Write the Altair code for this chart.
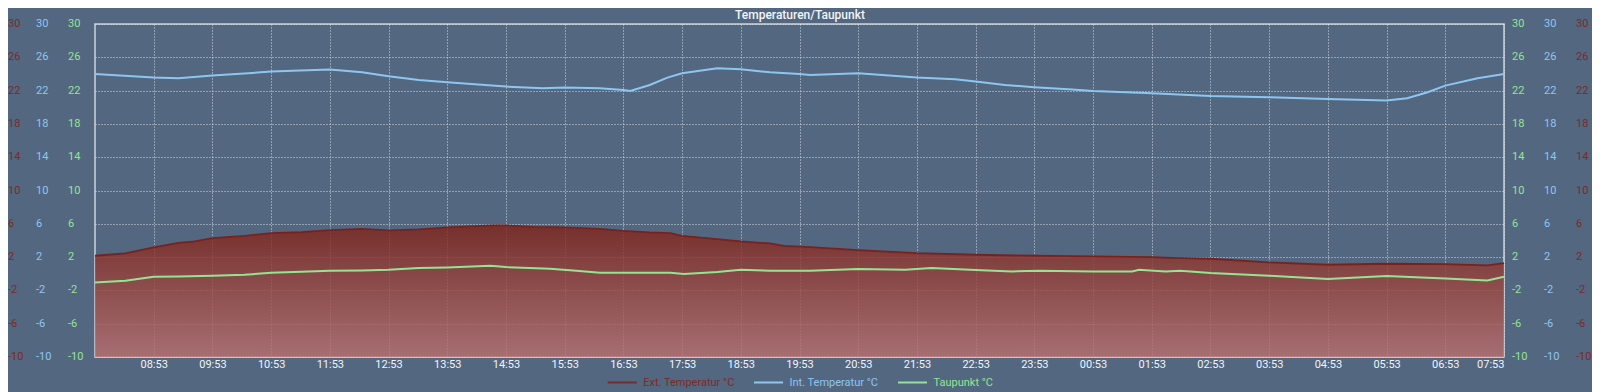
import altair as alt
import pandas as pd

# ---------------- data ----------------
title_text = "Temperaturen/Taupunkt"
series_names = ["Ext. Temperatur °C", "Int. Temperatur °C", "Taupunkt °C"]

# minutes after 07:53 (start of the 24 h window)
ext_min = [0, 31, 60, 85, 102, 120, 153, 180, 211, 240, 273, 300, 331, 360, 407, 420, 448, 480,
           516, 540, 567, 588, 600, 625, 660, 690, 704, 731, 780, 840, 900, 960, 1020, 1080, 1100,
           1140, 1200, 1260, 1320, 1380, 1423, 1440]
ext_val = [2.16, 2.44, 3.16, 3.72, 3.88, 4.28, 4.56, 4.88, 5.0, 5.24, 5.4, 5.2, 5.32, 5.56, 5.8, 5.8,
           5.64, 5.56, 5.4, 5.16, 4.96, 4.88, 4.56, 4.28, 3.88, 3.64, 3.36, 3.2, 2.84, 2.48, 2.28,
           2.16, 2.08, 2.0, 1.9, 1.8, 1.36, 1.08, 1.2, 1.16, 1.0, 1.28]

int_min = [0, 60, 85, 120, 180, 240, 273, 300, 331, 360, 420, 458, 480, 516, 540, 547, 567, 585,
           600, 636, 660, 690, 720, 731, 780, 840, 879, 900, 930, 960, 999, 1020, 1080, 1140, 1200,
           1260, 1320, 1341, 1362, 1380, 1413, 1440]
int_val = [24.0, 23.56, 23.48, 23.8, 24.28, 24.52, 24.2, 23.72, 23.28, 23.0, 22.48, 22.28, 22.36,
           22.28, 22.08, 21.96, 22.68, 23.56, 24.08, 24.68, 24.56, 24.2, 24.0, 23.88, 24.08, 23.56,
           23.36, 23.08, 22.68, 22.4, 22.12, 21.96, 21.68, 21.36, 21.2, 21.0, 20.8, 21.08, 21.8,
           22.6, 23.48, 24.0]

dew_min = [0, 31, 60, 85, 120, 153, 180, 211, 240, 273, 300, 331, 360, 404, 420, 465, 492, 516,
           554, 588, 602, 636, 660, 690, 731, 780, 828, 855, 900, 937, 965, 1020, 1060, 1067, 1094,
           1109, 1140, 1200, 1260, 1320, 1380, 1423, 1440]
dew_val = [-1.04, -0.84, -0.36, -0.32, -0.24, -0.12, 0.12, 0.24, 0.36, 0.4, 0.48, 0.68, 0.76, 0.96,
           0.8, 0.6, 0.36, 0.12, 0.12, 0.12, -0.04, 0.2, 0.48, 0.36, 0.36, 0.56, 0.48, 0.68, 0.44,
           0.28, 0.36, 0.28, 0.28, 0.48, 0.28, 0.36, 0.08, -0.24, -0.64, -0.28, -0.56, -0.8, -0.36]

x_tick_minutes = [60, 120, 180, 240, 300, 360, 420, 480, 540, 600, 660, 720, 780, 840, 900, 960,
                  1020, 1080, 1140, 1200, 1260, 1320, 1380, 1440]
x_tick_labels = ["08:53", "09:53", "10:53", "11:53", "12:53", "13:53", "14:53", "15:53", "16:53",
                 "17:53", "18:53", "19:53", "20:53", "21:53", "22:53", "23:53", "00:53", "01:53",
                 "02:53", "03:53", "04:53", "05:53", "06:53", "07:53"]
y_ticks = [-10, -6, -2, 2, 6, 10, 14, 18, 22, 26, 30]

# ---------------- style ----------------
BG = "#536781"
RED = "#7d2a25"
BLUE = "#8ec6f2"
GREEN = "#92e692"
WHITE = "#f2f5f8"
GRID = "#e2e8ee"
FONT = "Roboto"

W, H = 1409, 333

df_ext = pd.DataFrame({"minute": ext_min, "value": ext_val})
df_int = pd.DataFrame({"minute": int_min, "value": int_val})
df_dew = pd.DataFrame({"minute": dew_min, "value": dew_val})
df_ticks = pd.DataFrame({"value": y_ticks, "label": [str(v) for v in y_ticks]})
df_one = pd.DataFrame({"t": [title_text]})

label_expr = "[" + ",".join("'" + s + "'" for s in x_tick_labels) + "][round(datum.value/60)-1]"

x_enc = alt.X(
    "minute:Q",
    scale=alt.Scale(domain=[0, 1440], nice=False, zero=False),
    axis=alt.Axis(values=x_tick_minutes, labelExpr=label_expr, grid=True, ticks=False,
                  tickSize=0, domain=False, labelColor=WHITE, labelFontSize=11, labelFont=FONT,
                  labelPadding=1, title=None, gridDash=[1, 2], gridColor=GRID, gridOpacity=0.9),
)
y_enc = alt.Y(
    "value:Q",
    scale=alt.Scale(domain=[-10, 30], nice=False, zero=False),
    axis=alt.Axis(values=y_ticks, labels=False, ticks=False, domain=False, grid=True, title=None,
                  gridDash=[1, 2], gridColor=GRID, gridOpacity=0.9),
)

area = alt.Chart(df_ext).mark_area(
    opacity=0.8,
    color=alt.Gradient(gradient="linear",
                       stops=[alt.GradientStop(color="#7f2217", offset=0),
                              alt.GradientStop(color="#bb706e", offset=1)],
                       x1=1, x2=1, y1=0, y2=1),
).encode(x=x_enc, y=y_enc, y2=alt.datum(-10))

ext_line = alt.Chart(df_ext).mark_line(color="#762320", strokeWidth=1.8).encode(x=x_enc, y=y_enc)
int_line = alt.Chart(df_int).mark_line(color=BLUE, strokeWidth=2).encode(x=x_enc, y=y_enc)
dew_line = alt.Chart(df_dew).mark_line(color=GREEN, strokeWidth=2).encode(x=x_enc, y=y_enc)


def tick_col(px, color):
    return alt.Chart(df_ticks).mark_text(align="left", baseline="middle", fontSize=11, font=FONT,
                                         color=color).encode(
        x=alt.value(px), y=y_enc, text="label:N")


cols = [tick_col(-87, RED), tick_col(-59, BLUE), tick_col(-27, GREEN),
        tick_col(W + 8, GREEN), tick_col(W + 40, BLUE), tick_col(W + 72, RED)]

title = alt.Chart(df_one).mark_text(align="center", baseline="alphabetic", fontSize=12, font=FONT,
                                    color=WHITE, fontWeight=500).encode(
    x=alt.value(705), y=alt.value(-5), text="t:N")

legend_layers = []
leg_specs = [(512.7, RED, series_names[0]), (659, BLUE, series_names[1]), (803, GREEN, series_names[2])]
for lx, c, name in leg_specs:
    legend_layers.append(
        alt.Chart(df_one).mark_rule(color=c, strokeWidth=2).encode(
            x=alt.value(lx), x2=alt.value(lx + 29), y=alt.value(358.5)))
    legend_layers.append(
        alt.Chart(pd.DataFrame({"t": [name]})).mark_text(
            align="left", baseline="middle", fontSize=11, font=FONT, color=c).encode(
            x=alt.value(lx + 35.5), y=alt.value(358.5), text="t:N"))

chart = alt.layer(area, ext_line, int_line, dew_line, *cols, title, *legend_layers).properties(
    width=W, height=H,
    padding={"left": 87, "top": 16, "right": 88, "bottom": 35},
    autosize=alt.AutoSizeParams(type="none"),
    background=BG,
).configure_view(stroke="#cdd4dc", strokeWidth=1.5, fill=BG)

chart.save("out.html", embed_options={"renderer": "svg", "actions": False})
